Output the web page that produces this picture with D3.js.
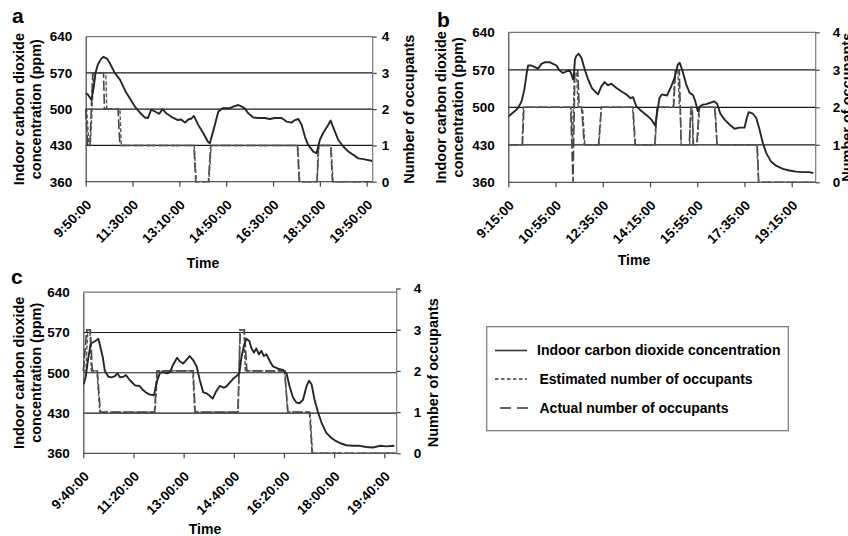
<!DOCTYPE html>
<html><head><meta charset="utf-8">
<script src="https://cdn.jsdelivr.net/npm/d3@7"></script>
<style>
body{margin:0;background:#fff}
svg{display:block}
text{font-family:"Liberation Sans",Arial,sans-serif;font-weight:bold;fill:#000}
</style>
</head><body>
<svg id="chart" width="848" height="536"></svg>
<script>
// ---------------- data ----------------
const ppmTicks = [360, 430, 500, 570, 640];
const occTicks = [0, 1, 2, 3, 4];
const minuteTicks = [0, 100, 200, 300, 400, 500, 600];   // minutes after first sample
const timeLabelsA = ["9:50:00","11:30:00","13:10:00","14:50:00","16:30:00","18:10:00","19:50:00"];
const timeLabelsB = ["9:15:00","10:55:00","12:35:00","14:15:00","15:55:00","17:35:00","19:15:00"];
const timeLabelsC = ["9:40:00","11:20:00","13:00:00","14:40:00","16:20:00","18:00:00","19:40:00"];
const panelLetters = ["a", "b", "c"];
const leftTitle = ["Indoor carbon dioxide", "concentration (ppm)"];
const rightTitle = "Number of occupants";
const xTitle = "Time";
const legendLabels = ["Indoor carbon dioxide concentration", "Estimated number of occupants", "Actual number of occupants"];

// [minute, ppm]
const co2A = [[0,531],[5,528],[12,518],[17,541],[21,570],[26,586],[33,597],[38,601],[46,597],[53,586],[62,570],[73,557],[87,531],[105,505],[115,494],[126,484],[133,483],[140,499],[151,494],[157,491],[164,500],[172,492],[185,484],[197,479],[204,480],[212,474],[219,480],[226,482],[231,487],[240,470],[251,454],[261,437],[265,434],[273,460],[283,495],[293,502],[308,502],[315,505],[326,508],[333,505],[340,501],[347,492],[358,484],[368,483],[382,483],[393,481],[404,483],[418,483],[429,476],[439,474],[447,479],[454,481],[461,470],[468,447],[475,431],[486,418],[493,415],[500,441],[507,454],[518,470],[523,478],[528,466],[539,441],[550,428],[561,418],[571,412],[582,405],[596,403],[612,400]];
// [minute, occupants]
const actA = [[0,2],[4,1],[9,1],[15,3],[38,3],[40,2],[69,2],[73,1],[231,1],[235,0],[262,0],[267,1],[452,1],[456,0],[494,0],[497,1],[523,1],[527,0],[612,0]];
const estA = [[0,2],[2,2],[7,1],[10,1],[17,3],[43,3],[45,2],[73,2],[76,1],[232,1],[236,0],[263,0],[268,1],[453,1],[457,0],[494,0],[498,1],[524,1],[528,0],[612,0]];

const co2B = [[0,483],[7,488],[14,493],[21,499],[28,511],[34,533],[39,564],[42,578],[49,578],[56,575],[63,572],[70,581],[77,584],[88,584],[95,581],[102,578],[108,569],[116,564],[123,567],[130,569],[134,561],[137,552],[139,561],[141,589],[144,596],[149,600],[155,592],[162,570],[169,552],[177,536],[183,530],[190,524],[197,539],[204,547],[211,541],[218,544],[229,536],[239,530],[250,524],[259,517],[264,519],[271,502],[278,496],[289,488],[296,483],[303,477],[311,466],[315,489],[320,517],[325,524],[336,522],[345,539],[352,555],[359,580],[363,583],[368,570],[377,542],[384,527],[391,523],[396,511],[401,493],[406,502],[412,505],[419,506],[426,508],[435,511],[442,507],[449,488],[458,477],[468,468],[479,460],[489,462],[500,462],[505,480],[509,491],[518,488],[525,480],[532,458],[539,433],[546,415],[556,399],[567,391],[581,385],[595,382],[609,380],[623,379],[637,379],[646,377]];
const actB = [[0,1],[30,1],[33,2],[132,2],[137,0],[141,3],[147,3],[150,2],[155,2],[161,1],[191,1],[197,2],[264,2],[269,1],[310,1],[315,2],[350,2],[354,3],[362,3],[366,1],[383,1],[387,2],[389,2],[392,1],[399,1],[404,2],[437,2],[442,1],[527,1],[530,0],[650,0]];
const estB = [[0,1],[29,1],[32,2],[133,2],[136,1],[140,3],[144,3],[148,2],[157,2],[162,1],[192,1],[197,2],[263,2],[268,1],[311,1],[315,2],[349,2],[353,3],[359,3],[362,2],[364,2],[366,1],[384,1],[386,2],[390,2],[391,1],[400,1],[405,2],[438,2],[442,1],[526,1],[530,0],[650,0]];

const co2C = [[1,480],[5,494],[10,526],[15,551],[20,553],[27,557],[30,559],[33,549],[39,526],[43,503],[50,493],[56,492],[63,494],[68,499],[73,492],[80,493],[85,496],[93,487],[103,478],[112,477],[119,470],[126,465],[133,462],[141,461],[146,483],[153,500],[159,501],[167,499],[173,501],[179,514],[187,526],[192,520],[199,516],[206,523],[212,529],[219,522],[226,511],[232,488],[239,466],[246,464],[252,460],[258,455],[265,468],[272,477],[280,474],[285,476],[292,483],[299,490],[305,494],[311,499],[315,526],[320,546],[325,559],[331,555],[335,543],[340,535],[345,542],[350,532],[355,538],[360,529],[365,532],[372,520],[378,511],[388,507],[398,505],[405,499],[411,477],[418,457],[425,448],[431,447],[438,453],[445,477],[450,486],[455,480],[461,453],[468,431],[475,413],[484,396],[494,387],[504,381],[514,377],[524,374],[538,373],[551,373],[564,371],[577,370],[591,373],[604,372],[620,373]];
const actC = [[0,2],[7,3],[14,3],[18,2],[28,2],[34,1],[142,1],[147,2],[219,2],[223,1],[308,1],[313,3],[321,3],[326,2],[401,2],[408,1],[451,1],[456,0],[624,0]];
const estC = [[0,2],[5,2],[9,3],[13,3],[16,2],[27,2],[33,1],[143,1],[148,2],[218,2],[222,1],[309,1],[312,3],[320,3],[323,2],[402,2],[407,1],[452,1],[457,0],[624,0]];

// ---------------- layout ----------------
const panels = [
  {letter:0, co2:co2A, act:actA, est:estA, labels:timeLabelsA,
   L:85.7, R:372.7, T:36.6, B:181.7, tMax:612.8, rT:36.6, rB:181.7,
   letterXY:[12,23], ltX:[19,36], rLabDx:5, rtX:409, xtXY:[203,268]},
  {letter:1, co2:co2B, act:actB, est:estB, labels:timeLabelsB,
   L:508.3, R:815.7, T:32.3, B:182.3, tMax:650.8, rT:32.3, rB:182.3,
   letterXY:[437,26.5], ltX:[441,458], rLabDx:13, rtX:847, xtXY:[634,265]},
  {letter:2, co2:co2C, act:actC, est:estC, labels:timeLabelsC,
   L:83.3, R:396.7, T:292.2, B:453.3, tMax:624.7, rT:288.5, rB:453.3,
   letterXY:[11,284], ltX:[19,36], rLabDx:13, rtX:432.5, xtXY:[205,534]}
];

const svg = d3.select("#chart");
const FONT = "Liberation Sans, Arial, sans-serif";

panels.forEach(p => {
  const g = svg.append("g");
  const x = d3.scaleLinear().domain([0, p.tMax]).range([p.L, p.R]);
  const y = d3.scaleLinear().domain([360, 640]).range([p.B, p.T]);
  const yr = d3.scaleLinear().domain([0, 4]).range([p.rB, p.rT]);

  // gridlines
  g.selectAll(".grid").data(ppmTicks.filter(v => v > 360 && v < 640)).enter()
    .append("line").attr("x1", p.L).attr("x2", p.R)
    .attr("y1", d => y(d)).attr("y2", d => y(d))
    .attr("stroke", "#1a1a1a").attr("stroke-width", 1.2);
  // top frame
  g.append("line").attr("x1", p.L).attr("x2", p.R).attr("y1", y(640)).attr("y2", y(640))
    .attr("stroke", "#777").attr("stroke-width", 1.2);

  // lines
  const occLine = d3.line().x(d => x(d[0])).y(d => yr(d[1]));
  const co2Line = d3.line().x(d => x(d[0])).y(d => y(d[1]));
  g.append("path").attr("d", occLine(p.act)).attr("fill", "none")
    .attr("stroke", "#444").attr("stroke-width", 1.6).attr("stroke-dasharray", "10,3");
  g.append("path").attr("d", occLine(p.est)).attr("fill", "none")
    .attr("stroke", "#555").attr("stroke-width", 1.4).attr("stroke-dasharray", "4,2");
  g.append("path").attr("d", co2Line(p.co2)).attr("fill", "none")
    .attr("stroke", "#262626").attr("stroke-width", 1.9).attr("stroke-linejoin", "round");

  // left axis
  const la = g.append("g").attr("transform", `translate(${p.L},0)`)
    .call(d3.axisLeft(y).tickValues(ppmTicks).tickSize(0).tickPadding(13.5).tickFormat(d3.format("d")));
  la.select(".domain").attr("stroke", "#444").attr("stroke-width", 1.2);
  la.selectAll("text").style("font-size", "13.5px").style("font-family", FONT).style("font-weight", "bold").attr("fill", "#000");

  // right axis
  const ra = g.append("g").attr("transform", `translate(${p.R},0)`)
    .call(d3.axisRight(yr).tickValues(occTicks).tickSize(4).tickPadding(p.rLabDx).tickFormat(d3.format("d")));
  ra.select(".domain").attr("stroke", "#777").attr("stroke-width", 1.2).attr("d", `M0,${p.B}V${Math.min(p.T, p.rT)}`);
  ra.selectAll(".tick line").attr("stroke", "#444").attr("stroke-width", 1.2);
  ra.selectAll("text").style("font-size", "13.5px").style("font-family", FONT).style("font-weight", "bold").attr("fill", "#000");

  // bottom axis
  const ba = g.append("g").attr("transform", `translate(0,${p.B})`)
    .call(d3.axisBottom(x).tickValues(minuteTicks).tickSize(5).tickFormat((d, i) => p.labels[i]));
  ba.select(".domain").attr("stroke", "#555").attr("stroke-width", 1.2).attr("d", `M${p.L},0H${p.R}`);
  ba.selectAll(".tick line").attr("stroke", "#444").attr("stroke-width", 1.2);
  ba.selectAll("text").style("font-size", "13.5px").style("font-family", FONT).style("font-weight", "bold").attr("fill", "#000")
    .attr("text-anchor", "end").attr("dy", null).attr("y", null)
    .attr("transform", "translate(6,24) rotate(-45)");

  // titles
  leftTitle.forEach((t, i) => {
    g.append("text").attr("transform", `translate(${p.ltX[i]},${(p.T + p.B) / 2}) rotate(-90)`)
      .attr("text-anchor", "middle").attr("dominant-baseline", "central")
      .style("font-size", "14.5px").text(t);
  });
  g.append("text").attr("transform", `translate(${p.rtX},${(p.T + p.B) / 2}) rotate(-90)`)
    .attr("text-anchor", "middle").attr("dominant-baseline", "central")
    .style("font-size", "14.5px").text(rightTitle);
  g.append("text").attr("x", p.xtXY[0]).attr("y", p.xtXY[1]).attr("text-anchor", "middle")
    .style("font-size", "14px").text(xTitle);
  g.append("text").attr("x", p.letterXY[0]).attr("y", p.letterXY[1])
    .style("font-size", "21px").text(panelLetters[p.letter]);
});

// legend
const lg = svg.append("g");
lg.append("rect").attr("x", 486.7).attr("y", 326.7).attr("width", 301.6).attr("height", 104)
  .attr("fill", "none").attr("stroke", "#777").attr("stroke-width", 1.2);
const legendStyles = [
  {dash: null, x1: 495, x2: 527, y: 350.5, tx: 537, ty: 354.5, w: 1.6},
  {dash: "3.5,2.5", x1: 495, x2: 527, y: 379, tx: 539.5, ty: 384, w: 1.3},
  {dash: "11,6", x1: 500, x2: 530, y: 408, tx: 539.5, ty: 413, w: 1.6}
];
legendLabels.forEach((t, i) => {
  const s = legendStyles[i];
  lg.append("line").attr("x1", s.x1).attr("x2", s.x2).attr("y1", s.y).attr("y2", s.y)
    .attr("stroke", "#333").attr("stroke-width", s.w).attr("stroke-dasharray", s.dash);
  lg.append("text").attr("x", s.tx).attr("y", s.ty).style("font-size", "14px").text(t);
});
</script>
</body></html>
